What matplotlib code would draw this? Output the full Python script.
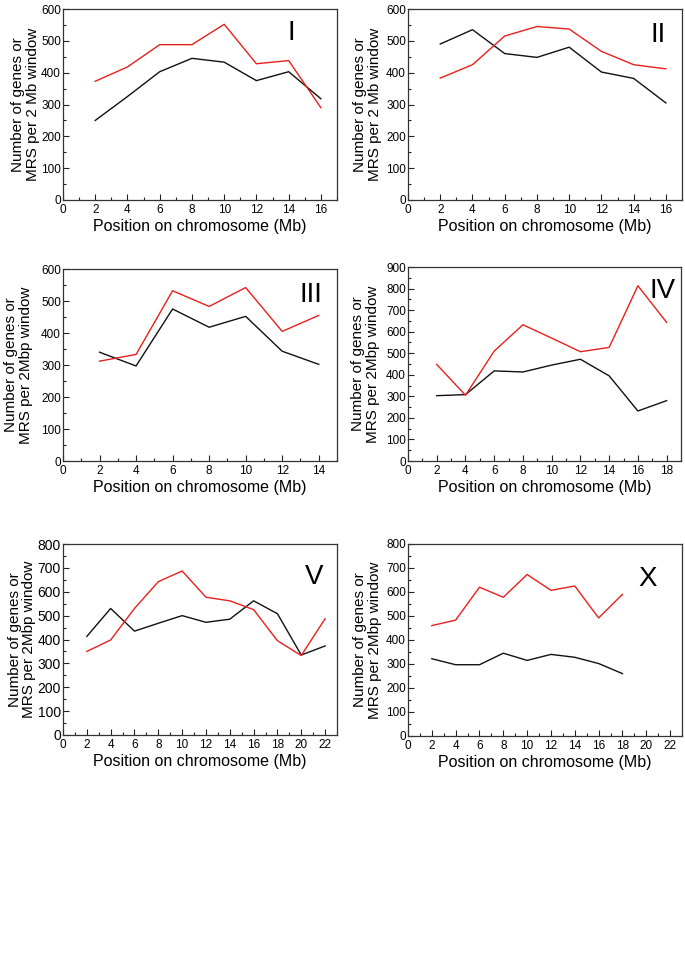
import matplotlib
matplotlib.use("Agg")
import matplotlib.pyplot as plt
from matplotlib.ticker import MultipleLocator

plt.rcParams['font.family'] = ['Liberation Sans', 'DejaVu Sans']

# chromosome windows (Mb)
pos_I = [2, 4, 6, 8, 10, 12, 14, 16]
pos_II = [2, 4, 6, 8, 10, 12, 14, 16]
pos_III = [2, 4, 6, 8, 10, 12, 14]
pos_IV = [2, 4, 6, 8, 10, 12, 14, 16, 18]
pos_V = [2, 4, 6, 8, 10, 12, 14, 16, 18, 20, 22]
pos_X = [2, 4, 6, 8, 10, 12, 14, 16, 18]

# black line = genes, red line = MRS
genes_I = [250, 325, 403, 445, 433, 375, 403, 318]
mrs_I = [373, 418, 488, 488, 552, 428, 438, 290]
genes_II = [490, 535, 460, 448, 480, 402, 382, 305]
mrs_II = [383, 425, 515, 545, 537, 467, 425, 412]
genes_III = [340, 297, 475, 418, 452, 343, 302]
mrs_III = [312, 333, 532, 483, 542, 405, 455]
genes_IV = [303, 308, 418, 413, 445, 472, 395, 232, 280]
mrs_IV = [448, 305, 510, 632, 570, 507, 527, 813, 643]
genes_V = [413, 530, 435, 468, 500, 472, 485, 562, 508, 335, 373]
mrs_V = [350, 398, 530, 642, 687, 577, 562, 525, 395, 333, 487]
genes_X = [322, 297, 297, 345, 315, 340, 328, 302, 260]
mrs_X = [460, 483, 620, 578, 673, 607, 625, 492, 590]

names = ['I', 'II', 'III', 'IV', 'V', 'X']
xlims = [17, 17, 15, 19, 23, 23]
ylims = [600, 600, 600, 900, 800, 800]
xtick_max = [16, 16, 14, 18, 22, 22]
lab2 = ['MRS per 2 Mb window', 'MRS per 2 Mb window'] + ['MRS per 2Mbp window'] * 4

W, H = 685, 968
# axes boxes in pixels: left, right, top, bottom
boxes = [(63, 337, 9, 200), (408, 682, 9, 200),
         (63, 337, 269, 461), (408, 681, 267, 461),
         (63, 337, 544, 735), (408, 682, 544, 736)]
ylab_x = [-0.084, -0.095, -0.11, -0.103, -0.098, -0.095]
num_xy = [(291, 33), (658, 35), (311, 295), (663, 291), (314, 577), (648, 579)]
ytick_fs = [8.5, 8.5, 8.5, 8.5, 10, 8.5]

fig = plt.figure(figsize=(W / 100, H / 100), dpi=100)

data = [(pos_I, genes_I, mrs_I), (pos_II, genes_II, mrs_II),
        (pos_III, genes_III, mrs_III), (pos_IV, genes_IV, mrs_IV),
        (pos_V, genes_V, mrs_V), (pos_X, genes_X, mrs_X)]

for i, (x, g, m) in enumerate(data):
    l, r, t, b = boxes[i]
    ax = fig.add_axes([l / W, 1 - b / H, (r - l) / W, (b - t) / H])
    ax.plot(x, g, color='#111111', lw=1.0)
    ax.plot(x, m, color='#e8201c', lw=1.0)
    ax.set_xlim(0, xlims[i])
    ax.set_ylim(0, ylims[i])
    ax.set_xticks(range(0, xtick_max[i] + 1, 2))
    ax.xaxis.set_minor_locator(MultipleLocator(1))
    ax.yaxis.set_major_locator(MultipleLocator(100))
    ax.yaxis.set_minor_locator(MultipleLocator(50))
    ax.tick_params(which='both', direction='in', top=False, right=False,
                   width=0.8, color='#222222')
    ax.tick_params(which='major', length=4)
    ax.tick_params(which='minor', length=2.5)
    ax.tick_params(axis='x', labelsize=8.5, pad=3)
    ax.tick_params(axis='y', labelsize=ytick_fs[i], pad=1.5)
    for s in ax.spines.values():
        s.set_linewidth(0.9)
        s.set_color('#333333')
    ax.set_xlabel('Position on chromosome (Mb)', fontsize=11.5, labelpad=2)
    ax.set_ylabel('Number of genes or\n' + lab2[i], fontsize=11, linespacing=1.05)
    ax.yaxis.set_label_coords(ylab_x[i], 0.5)
    nx, ny = num_xy[i]
    ax.text((nx - l) / (r - l), (b - ny) / (b - t), names[i], transform=ax.transAxes,
            ha='center', va='center', fontsize=20)

fig.savefig('out.png', dpi=100)
